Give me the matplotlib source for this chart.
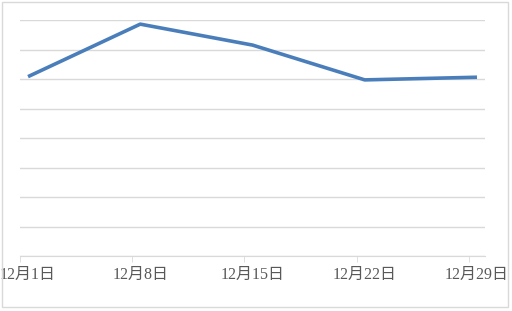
import matplotlib.pyplot as plt
from matplotlib.patches import Rectangle

# weekly points, value
days = [1, 8, 15, 22, 29]
labels = ['12月1日', '12月8日', '12月15日', '12月22日', '12月29日']
values = [6.08, 7.86, 7.15, 5.97, 6.06]

grid_c = '#d9d9d9'
fig = plt.figure(figsize=(5.12, 3.11), dpi=100)
fig.patches.append(Rectangle((2 / 512, 4 / 311), 506 / 512, 305 / 311,
                             transform=fig.transFigure, fill=False,
                             edgecolor=grid_c, linewidth=1))

ax = fig.add_axes([20 / 512, 55 / 311, 465 / 512, 236 / 311])
# excel date axis: each point sits in the middle of its day
x = [d - 1 + 0.5 for d in days]
ax.plot(x, values, color='#4a7ebb', linewidth=2.6, solid_capstyle='butt')

ax.set_xlim(0, 29)
ax.set_ylim(0, 8)
ax.set_yticks(range(0, 9))
ax.yaxis.grid(True, color=grid_c, linewidth=1)
ax.tick_params(axis='y', left=False, labelleft=False)
# labels centred on the points, tick marks on the day boundaries
ax.set_xticks(x)
ax.set_xticklabels(labels, family=['Liberation Serif', 'Noto Sans CJK SC'],
                   fontsize=11.5, color='#595959')
ax.tick_params(axis='x', which='major', length=0, pad=8)
ax.set_xticks([d - 1 for d in days], minor=True)
ax.tick_params(axis='x', which='minor', length=4.5, color=grid_c)
for s in ['top', 'right', 'left']:
    ax.spines[s].set_visible(False)
ax.spines['bottom'].set_color(grid_c)
ax.set_axisbelow(True)

fig.savefig('out.png')
